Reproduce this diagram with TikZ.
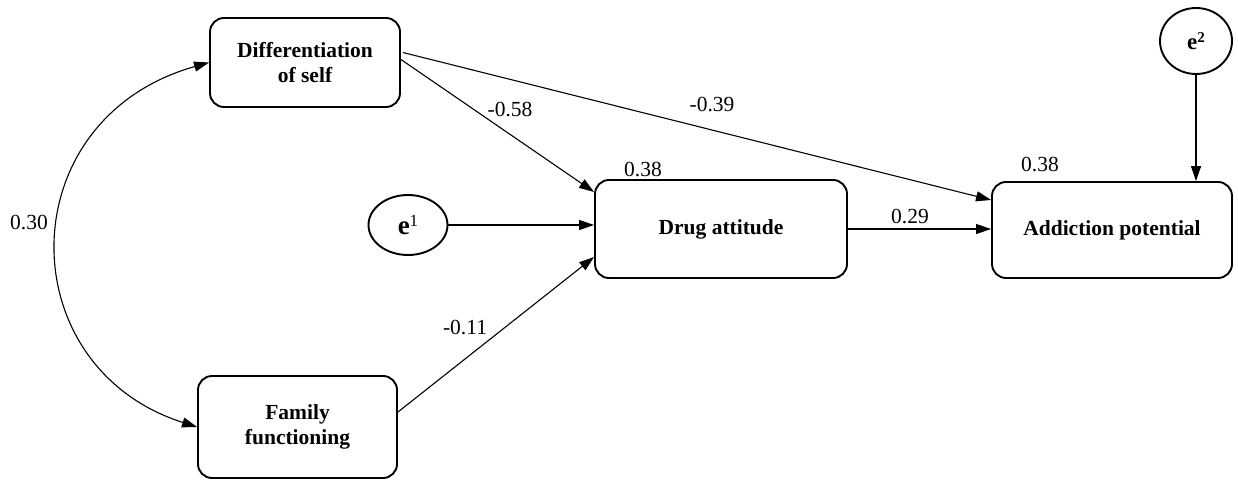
\documentclass[tikz,border=0pt]{standalone}
\usepackage{fontspec}
\setmainfont{Liberation Serif}
\usetikzlibrary{arrows.meta,calc,shapes.geometric}
\begin{document}
\begin{tikzpicture}[x=1pt,y=-1pt,
  box/.style={draw,line width=1.9pt,rounded corners=14pt,align=center,font=\bfseries\fontsize{21.5}{25}\selectfont,inner sep=0pt},
  err/.style={draw,ellipse,line width=1.9pt,inner sep=0pt},
  arr/.style={line width=1.1pt,-{Triangle[length=15pt,width=10pt]}},
  dblarr/.style={line width=1.1pt,{Triangle[length=15pt,width=10pt]}-{Triangle[length=15pt,width=10pt]}},
  lab/.style={font=\fontsize{21.5}{25}\selectfont,inner sep=0pt}]
\useasboundingbox (0,0) rectangle (1238,481);

\node[box,minimum width=190pt,minimum height=89pt] (diff) at (305,62.5) {Differentiation\\of self};
\node[box,minimum width=199pt,minimum height=102pt] (fam) at (297.5,427) {Family\\functioning};
\node[box,minimum width=252pt,minimum height=98pt] (drug) at (721,229) {Drug attitude};
\node[box,minimum width=240pt,minimum height=96pt] (add) at (1112,230) {Addiction potential};
\node[err,minimum width=79pt,minimum height=60pt] (e1) at (408,225)
  {{\fontsize{27}{27}\selectfont\bfseries e}\raisebox{8pt}{\fontsize{17}{17}\selectfont 1}};
\node[err,minimum width=72pt,minimum height=66pt] (e2) at (1196,41)
  {{\fontsize{23}{23}\selectfont\bfseries e}\raisebox{7pt}{\fontsize{15}{15}\selectfont\bfseries 2}};

\coordinate (d1) at ($(diff.east)+(2,-10)$);
\coordinate (d2) at ($(diff.east)+(0,-3)$);
\coordinate (f1) at ($(fam.east)+(0,-15)$);
\coordinate (dr1) at ($(drug.west)+(0,-37)$);
\coordinate (dr2) at ($(drug.west)+(0,-4)$);
\coordinate (dr3) at ($(drug.west)+(0,28)$);
\coordinate (a1) at ($(add.west)+(0,-30)$);
\coordinate (a2) at ($(add.west)+(0,-1)$);
\coordinate (a3) at (e2.south |- add.north);

\draw[arr] (d1) -- (a1);
\draw[arr] (d2) -- (dr1);
\draw[arr] (e1) -- (dr2);
\draw[arr] (f1) -- (dr3);
\draw[arr] (drug.east |- a2) -- (a2);
\draw[arr] (e2) -- (a3);
\draw[dblarr] (diff.west) .. controls (9,119) and (9,367) .. (fam.west);

\node[lab] (l1) at (510,110) {-0.58};
\node[lab] (l2) at (712,105) {-0.39};
\node[lab] (l3) at (643,170) {0.38};
\node[lab] (l4) at (1040,165) {0.38};
\node[lab] (l5) at (910,217) {0.29};
\node[lab] (l6) at (465,328) {-0.11};
\node[lab] (l7) at (29,223) {0.30};
\end{tikzpicture}
\end{document}
